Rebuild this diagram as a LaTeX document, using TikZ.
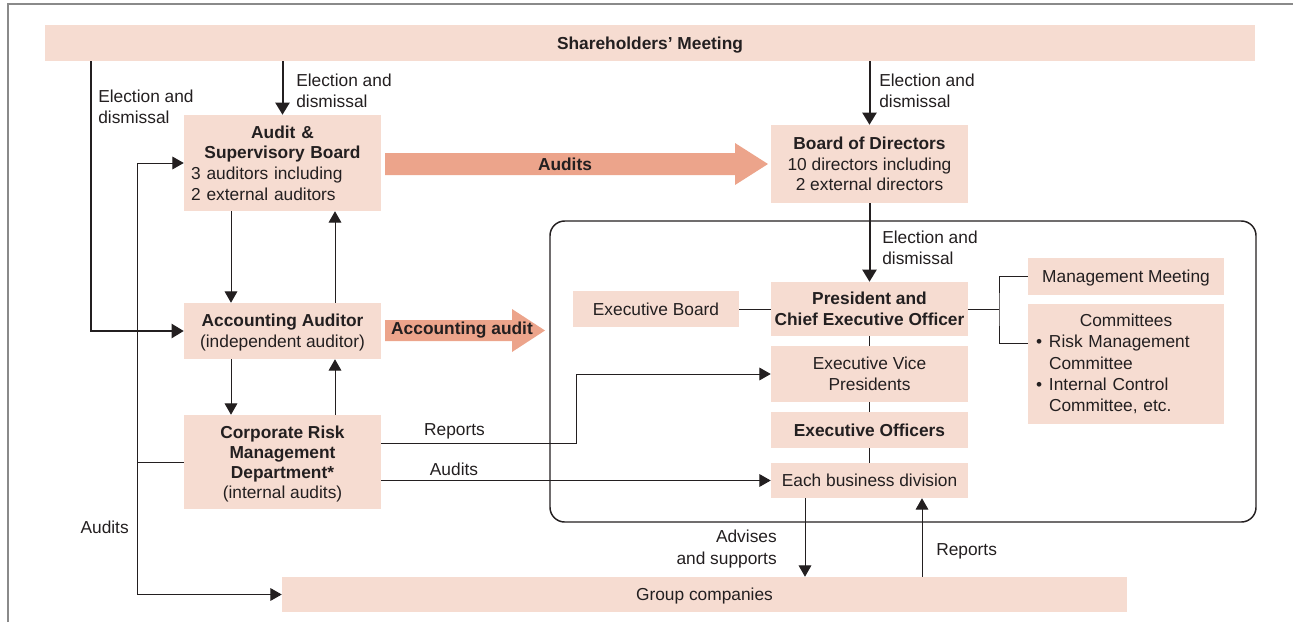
\documentclass[tikz,border=0pt]{standalone}
\usepackage{fontspec}
\setmainfont{Liberation Sans}
\usetikzlibrary{arrows.meta}
\definecolor{boxfill}{HTML}{F6DCD1}
\definecolor{bigarrow}{HTML}{ECA48B}
\definecolor{ink}{HTML}{231F20}
\definecolor{framegray}{HTML}{8A8A8A}

\begin{document}
\begin{tikzpicture}[x=0.75pt,y=-0.75pt,
	every node/.style={font=\fontsize{13}{15.5}\selectfont, text=ink},
	box/.style={fill=boxfill, inner sep=0pt, align=center, minimum width=147.75pt, text depth=0pt},
	elec/.style={draw=ink, line width=1.5pt, -{Triangle[length=9pt,width=10.5pt]}},
	arr/.style={draw=ink, line width=0.75pt, -{Triangle[length=8.5pt,width=9.5pt]}},
	link/.style={draw=ink, line width=0.75pt},
	lbl/.style={inner sep=0pt, align=left}]
	\useasboundingbox (0,0) rectangle (1293,622);
	\draw[framegray, line width=1pt] (8,622) -- (8,4) -- (1293,4);

	% boxes
	\node[box, minimum width=907.5pt, minimum height=27pt, font=\fontsize{13}{15.5}\selectfont\bfseries] (share) at (650,43) {Shareholders' Meeting};
	\node[box, minimum height=72pt, text width=137pt, align=left, text depth=] (asb) at (282.5,163)
		{{\centering\bfseries Audit \&\\Supervisory Board\par}3 auditors including\\2 external auditors};
	\node[box, minimum height=58.5pt] (bod) at (869.5,164) {\textbf{Board of Directors}\\10 directors including\\2 external directors};
	\node[box, minimum height=42pt, font=\fontsize{13}{16}\selectfont] (acc) at (282.5,331) {\textbf{Accounting Auditor}\\(independent auditor)};
	\node[box, minimum height=70.5pt, font=\fontsize{13}{15}\selectfont] (crmd) at (282.5,462) {\textbf{Corporate Risk}\\\textbf{Management}\\\textbf{Department*}\\(internal audits)};
	\node[box, minimum width=633.75pt, minimum height=26.25pt] (group) at (704.5,594.5) {Group companies};

	% executive side
	\draw[ink, line width=1.1pt, rounded corners=11pt] (550,221) rectangle (1256,522);
	\node[box, minimum width=124.5pt, minimum height=27pt] (exb) at (656,309) {Executive Board};
	\node[box, minimum height=40.5pt] (pres) at (869.5,309) {\textbf{President and}\\\textbf{Chief Executive Officer}};
	\node[box, minimum height=42pt] (evp) at (869.5,374) {Executive Vice\\Presidents};
	\node[box, minimum height=27pt] (eo) at (869.5,430) {\textbf{Executive Officers}};
	\node[box, minimum height=26.25pt] (ebd) at (869.5,480.5) {Each business division};
	\node[box, minimum width=147pt, minimum height=27.75pt] (mm) at (1126,276.5) {Management Meeting};
	\node[box, minimum width=147pt, minimum height=90pt, text width=135pt, align=left, text depth=, font=\fontsize{13}{16}\selectfont] (comm) at (1126,364)
		{{\centering Committees\par}\makebox[9.75pt][l]{\textbullet}Risk Management\\\hspace*{9.75pt}Committee\\\makebox[9.75pt][l]{\textbullet}Internal Control\\\hspace*{9.75pt}Committee, etc.};

	% big arrows
	\fill[bigarrow] (385,153) -- (735,153) -- (735,143) -- (768,164) -- (735,185) -- (735,175) -- (385,175) -- cycle;
	\node[font=\fontsize{13}{15.5}\selectfont\bfseries] (audA) at (565,164) {Audits};
	\fill[bigarrow] (385,320) -- (512,320) -- (512,309) -- (545,330.5) -- (512,352) -- (512,341) -- (385,341) -- cycle;
	\node[font=\fontsize{13}{15.5}\selectfont\bfseries] (accA) at (462,330.5) {Accounting audit};

	% election and dismissal
	\coordinate (eL) at (91,0);
	\draw[elec] (share.south -| eL) |- (acc.west);
	\draw[elec] (share.south -| asb) -- (asb.north);
	\draw[elec] (share.south -| bod) -- (bod.north);
	\draw[elec] (bod.south) -- (pres.north);
	\node[lbl, anchor=west] (lElA) at (98,106.5) {Election and\\dismissal};
	\node[lbl, anchor=west] (lElB) at (296,91) {Election and\\dismissal};
	\node[lbl, anchor=west] (lElC) at (879,90.5) {Election and\\dismissal};
	\node[lbl, anchor=west] (lElD) at (882,247.5) {Election and\\dismissal};

	% auditors column
	\coordinate (dl) at (231,0);
	\coordinate (ul) at (335,0);
	\draw[arr] (asb.south -| dl) -- (acc.north -| dl);
	\draw[arr] (acc.north -| ul) -- (asb.south -| ul);
	\draw[arr] (acc.south -| dl) -- (crmd.north -| dl);
	\draw[arr] (crmd.north -| ul) -- (acc.south -| ul);

	% internal audits
	\coordinate (al) at (137,0);
	\draw[link] (crmd.west) -- (crmd.west -| al);
	\draw[arr] (crmd.west -| al) |- (asb.west);
	\draw[arr] (crmd.west -| al) |- (group.west);
	\node[lbl, anchor=east] (lAudL) at (129,527) {Audits};
	\coordinate (rp) at (576,443);
	\draw[arr] (crmd.east |- rp) -- (rp) |- (evp.west);
	\draw[arr] (crmd.east |- ebd) -- (ebd.west);
	\node[lbl] (lRep) at (454.5,431) {Reports};
	\node[lbl] (lAud) at (454,469) {Audits};

	% executive links
	\coordinate (br) at (999,0);
	\coordinate (cm) at (1028,343);
	\draw[link] (exb) -- (pres);
	\draw[link] (pres.east) -- (pres.east -| br);
	\draw[link] (mm.west) -| (pres.east -| br) |- (cm);
	\draw[link] (pres) -- (evp) (evp) -- (eo) (eo) -- (ebd);

	% group companies
	\coordinate (ad) at (805,0);
	\coordinate (ru) at (922,0);
	\draw[arr] (ebd.south -| ad) -- (group.north -| ad);
	\draw[arr] (group.north -| ru) -- (ebd.south -| ru);
	\node[lbl, anchor=east, align=right, font=\fontsize{13}{16}\selectfont] (lAdv) at (777,549) {Advises\\and supports};
	\node[lbl, anchor=west] (lRepG) at (936,551) {Reports};
\end{tikzpicture}
\end{document}
